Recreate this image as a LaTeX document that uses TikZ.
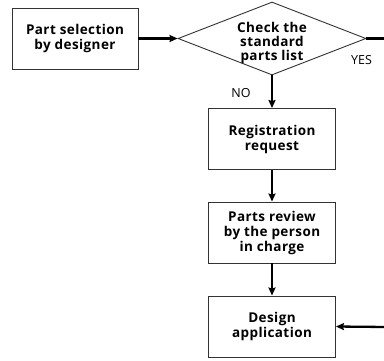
\documentclass[tikz,border=0pt]{standalone}
\usepackage{fontspec}
\setmainfont{Open Sans}
\newfontfamily\boxfont[LetterSpace=3]{Open Sans}
\usetikzlibrary{shapes.geometric,arrows.meta}
\begin{document}
\begin{tikzpicture}[x=1pt,y=-1pt,
  procbox/.style={draw=black!80,line width=0.9pt,minimum width=127pt,minimum height=61pt,inner sep=0pt,align=center,font=\boxfont\fontsize{13.5}{15}\selectfont\bfseries},
  decbox/.style={draw=black!80,line width=0.9pt,shape=diamond,aspect=2.58,minimum width=188pt,minimum height=73pt,inner sep=0pt},
  flow/.style={line width=2.3pt,-{Stealth[length=8pt,width=7pt,inset=1pt]}},
  plain/.style={line width=2.3pt},
  lbl/.style={font=\fontsize{12.5}{14}\selectfont,inner sep=0pt}]
\useasboundingbox (0,0) rectangle (384,360);
\node[procbox,minimum width=126pt] (b1) at (75,38.5) {Part selection\\by designer};
\node[decbox] (dia) at (272,38.5) {};
\node[font=\boxfont\fontsize{13.5}{14.2}\selectfont\bfseries,align=center,inner sep=0pt] (diatext) at (272,43) {Check the\\standard\\parts list};
\node[procbox] (b2) at (272,139) {Registration\\request};
\node[procbox] (b3) at (272,232.5) {Parts review\\by the person\\in charge};
\node[procbox] (b4) at (272,326.5) {Design\\application};
\coordinate (yesend) at (386,38.5);
\coordinate (retstart) at (386,327);
\draw[flow] (b1.east) -- (dia.west);
\draw[plain] (dia.east) -- (yesend);
\draw[flow] (dia.south) -- (b2.north);
\draw[flow] (b2.south) -- (b3.north);
\draw[flow] (b3.south) -- (b4.north);
\draw[flow] (retstart) -- (b4.east);
\node[lbl] (yes) at (361.5,60) {YES};
\node[lbl] (no) at (241,93) {NO};
\end{tikzpicture}
\end{document}
